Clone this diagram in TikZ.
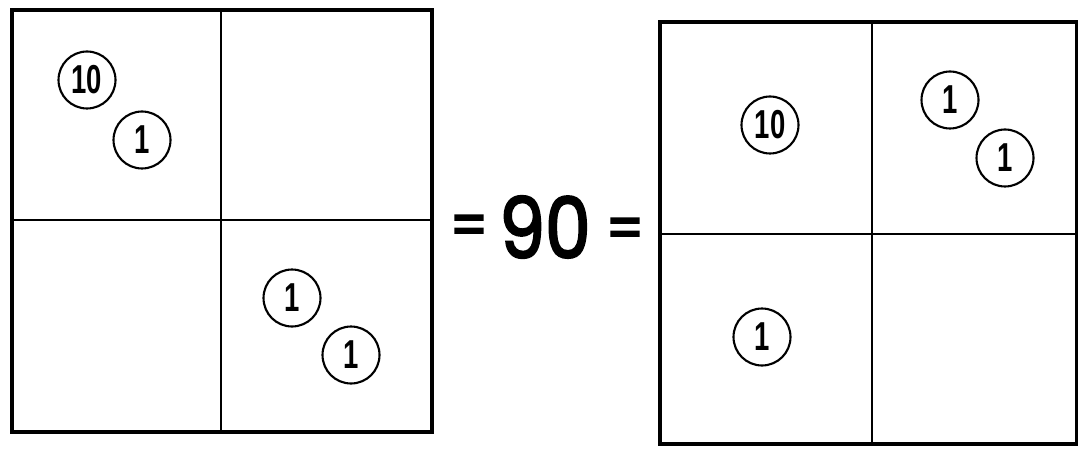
\documentclass[tikz,border=0pt]{standalone}
\usepackage{fontspec}
\usepackage{tikz}
\usetikzlibrary{positioning}
\newfontfamily\coinfont[FakeStretch=0.68]{Liberation Sans}
\newfontfamily\handfont[FakeBold=2.5,FakeStretch=0.86]{Poppins}
\tikzset{
  coin/.style={circle,draw,line width=1.2pt,minimum size=1.14cm,inner sep=0pt,
    font=\coinfont\bfseries\fontsize{23}{23}\selectfont},
  frame/.style={line width=2.6pt},
  split/.style={line width=1.2pt},
  bigsym/.style={font=\handfont\fontsize{48}{48}\selectfont,inner sep=0pt},
  eqsym/.style={font=\handfont\fontsize{35}{35}\selectfont,inner sep=0pt}
}
\begin{document}
\begin{tikzpicture}[x=0.02cm,y=-0.02cm]
\useasboundingbox (0,0) rectangle (1078,449);
% left board
\draw[frame] (12,10) rectangle (432,432);
\draw[split] (221,10) -- (221,432);
\draw[split] (12,220) -- (432,220);
\node[coin] (ta) at (87,80) {10};
\node[coin] (oa) at (142,140) {1};
\node[coin] (ob) at (292,298) {1};
\node[coin] (oc) at (351,355) {1};
% equals 90 equals
\node[eqsym] (eqa) at (469,231) {=};
\node[bigsym] (ninety) at (545,227) {90};
\node[eqsym] (eqb) at (625,234) {=};
% right board
\draw[frame] (660,22) rectangle (1077,444);
\draw[split] (872,22) -- (872,444);
\draw[split] (660,234) -- (1077,234);
\node[coin] (tb) at (770,125) {10};
\node[coin] (od) at (950,100) {1};
\node[coin] (oe) at (1005,158) {1};
\node[coin] (of) at (762,337) {1};
\end{tikzpicture}
\end{document}
